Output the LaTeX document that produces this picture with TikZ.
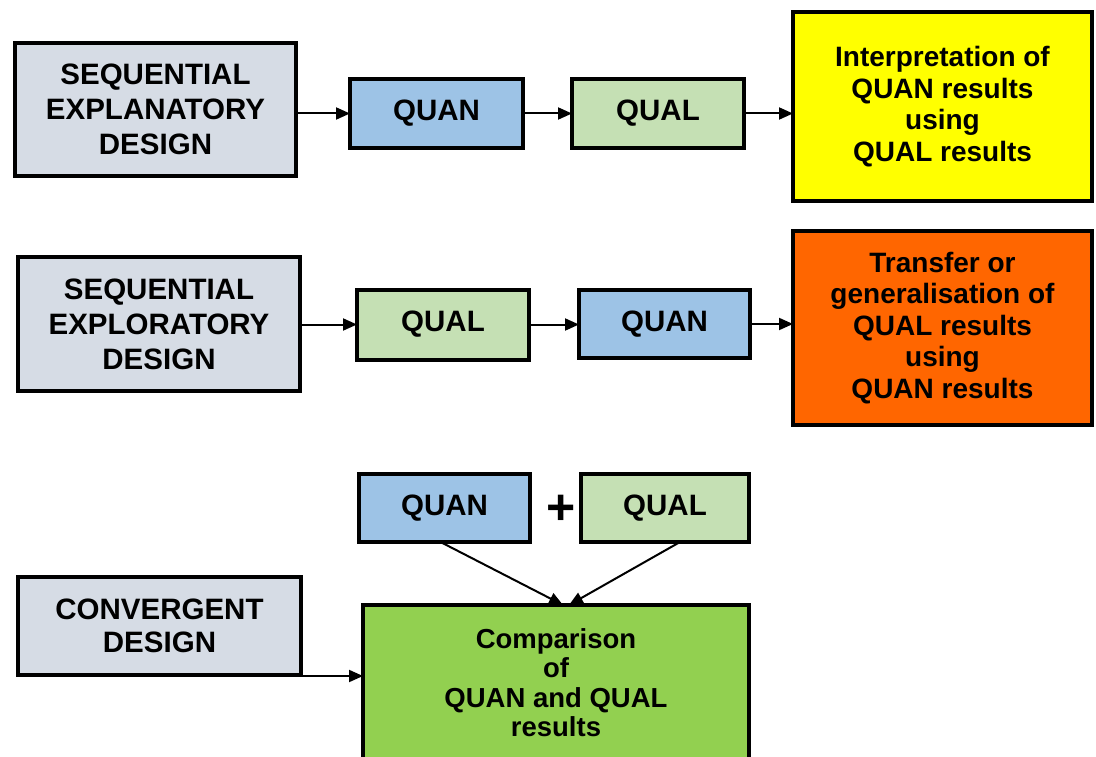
\documentclass[tikz,border=0pt]{standalone}
\usepackage{fontspec}
\setmainfont{Liberation Sans}
\usetikzlibrary{arrows.meta,calc}
\definecolor{dgray}{HTML}{D6DCE5}
\definecolor{quanblue}{HTML}{9DC3E6}
\definecolor{qualgreen}{HTML}{C5E0B4}
\definecolor{resyellow}{HTML}{FFFF00}
\definecolor{resorange}{HTML}{FF6600}
\definecolor{resgreen}{HTML}{92D050}
\begin{document}
\begin{tikzpicture}[x=1pt,y=-1pt,
  box/.style={draw=black,line width=4pt,inner sep=0pt,outer sep=0pt,align=center,
    font=\bfseries\fontsize{29.5}{35}\selectfont},
  bigbox/.style={box,font=\bfseries\fontsize{28}{31.5}\selectfont},
  conn/.style={line width=2pt,-{Triangle[length=14pt,width=12pt]}}]
\useasboundingbox (0,0) rectangle (1096,757);
\clip (0,0) rectangle (1096,757);
\fill[white] (0,0) rectangle (1096,757);

% Row 1
\node[box,fill=dgray,minimum width=281pt,minimum height=133pt] (d1) at (155.5,109.5) {SEQUENTIAL\\EXPLANATORY\\DESIGN};
\node[box,fill=quanblue,minimum width=173pt,minimum height=69pt] (quan1) at (436.5,113.5) {QUAN};
\node[box,fill=qualgreen,minimum width=172pt,minimum height=69pt] (qual1) at (658,113.5) {QUAL};
\node[bigbox,fill=resyellow,minimum width=299pt,minimum height=189pt] (yel) at (942.5,106.5) {Interpretation of\\QUAN results\\using\\QUAL results};
\draw[conn] (d1.east |- quan1.west) -- (quan1.west);
\draw[conn] (quan1.east) -- (qual1.west);
\draw[conn] (qual1.east) -- (qual1.east -| yel.west);

% Row 2
\node[box,fill=dgray,minimum width=282pt,minimum height=134pt] (d2) at (159,324) {SEQUENTIAL\\EXPLORATORY\\DESIGN};
\node[box,fill=qualgreen,minimum width=172pt,minimum height=70pt] (qual2) at (443,324.5) {QUAL};
\node[box,fill=quanblue,minimum width=171pt,minimum height=68pt] (quan2) at (664.5,324) {QUAN};
\node[bigbox,fill=resorange,minimum width=299pt,minimum height=194pt] (ora) at (942.5,328) {Transfer or\\generalisation of\\QUAL results\\using\\QUAN results};
\draw[conn] (d2.east |- qual2.west) -- (qual2.west);
\draw[conn] (qual2.east) -- (qual2.east -| quan2.west);
\draw[conn] (quan2.east) -- (quan2.east -| ora.west);

% Row 3
\node[box,fill=quanblue,minimum width=171pt,minimum height=68pt] (quan3) at (444.5,508) {QUAN};
\node[box,fill=qualgreen,minimum width=168pt,minimum height=68pt] (qual3) at (665,508) {QUAL};
\node[font=\bfseries\fontsize{50}{50}\selectfont,inner sep=0pt] (plus) at (561,510) {+};
\node[box,fill=dgray,minimum width=283pt,minimum height=98pt,font=\bfseries\fontsize{29.5}{33}\selectfont] (d3) at (159.5,626) {CONVERGENT\\DESIGN};
\node[box,fill=resgreen,minimum width=386pt,minimum height=155pt,font=\bfseries\fontsize{27.5}{29.5}\selectfont] (green) at (556,682.5) {Comparison\\of\\QUAN and QUAL\\results};
\coordinate (meet) at ($(green.north)+(10,0)$);
\coordinate (c3) at ($(d3.south east)+(0,1)$);
\draw[conn] ($(quan3.south)+(-4,0)$) -- ($(meet)+(-3,0)$);
\draw[conn] ($(qual3.south)+(15,0)$) -- ($(meet)+(3,0)$);
\draw[conn] (c3) -- (c3 -| green.west);
\end{tikzpicture}
\end{document}
